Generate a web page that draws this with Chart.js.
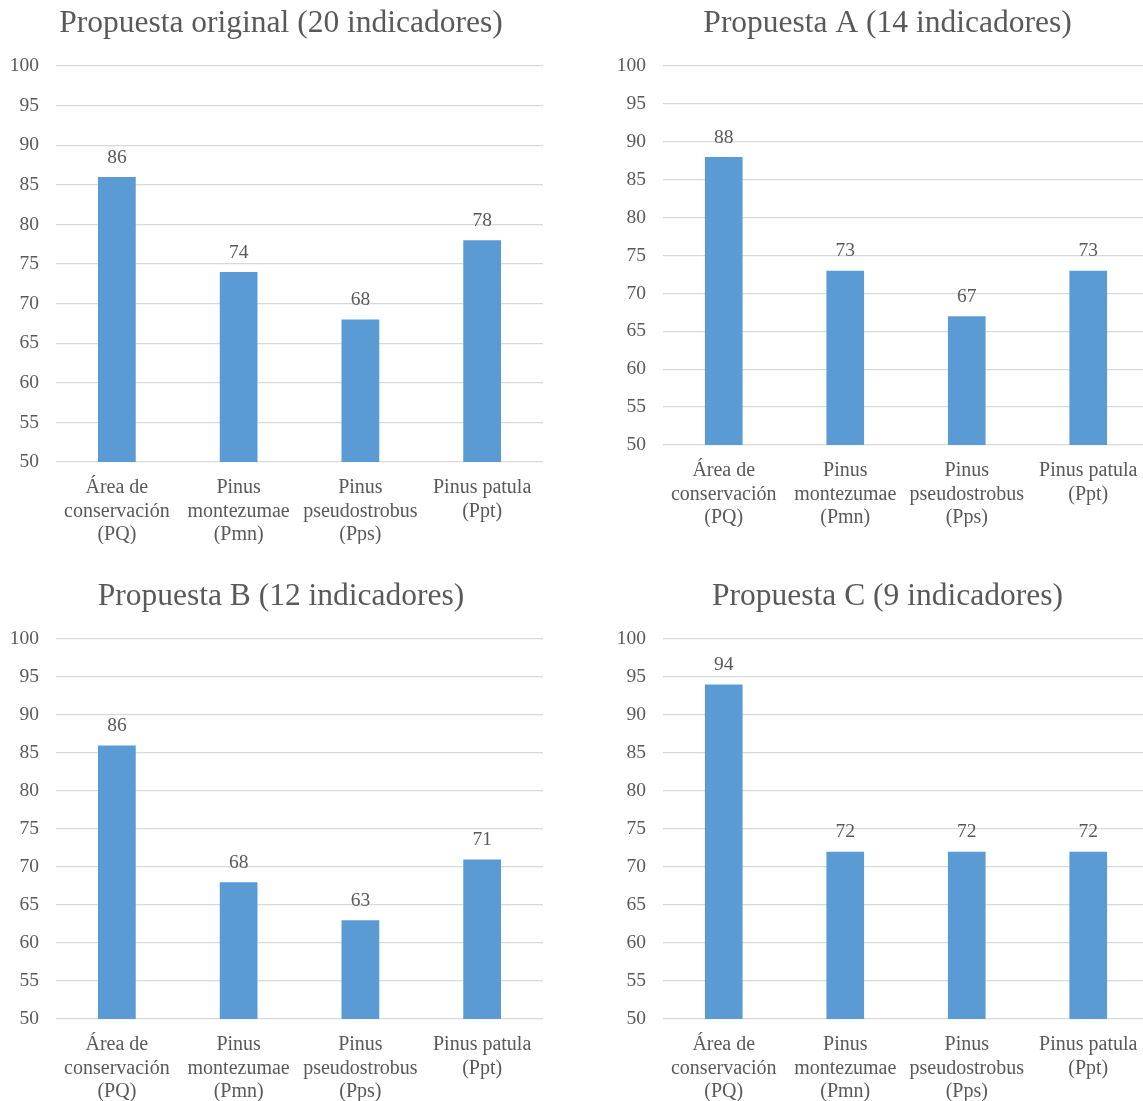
<!DOCTYPE html>
<html lang="es">
<head>
<meta charset="utf-8">
<title>Propuestas de indicadores</title>
<script src="https://cdn.jsdelivr.net/npm/chart.js@4/dist/chart.umd.min.js"></script>
<style>
  html, body { margin: 0; padding: 0; background: #fff; overflow: hidden; }
  body { position: relative; width: 1143px; height: 1101px; }
  canvas { position: absolute; }
</style>
</head>
<body>
<canvas id="cOriginal"></canvas>
<canvas id="cA"></canvas>
<canvas id="cB"></canvas>
<canvas id="cC"></canvas>
<script>
const CATEGORIES = [
  ["Área de", "conservación", "(PQ)"],
  ["Pinus", "montezumae", "(Pmn)"],
  ["Pinus", "pseudostrobus", "(Pps)"],
  ["Pinus patula", "(Ppt)"],
];

const TITLE_ORIGINAL = "Propuesta original (20 indicadores)";
const TITLE_A = "Propuesta A (14 indicadores)";
const TITLE_B = "Propuesta B (12 indicadores)";
const TITLE_C = "Propuesta C (9 indicadores)";

const VALUES_ORIGINAL = [86, 74, 68, 78];
const VALUES_A = [88, 73, 67, 73];
const VALUES_B = [86, 68, 63, 71];
const VALUES_C = [94, 72, 72, 72];

const Y_MIN = 50;
const Y_MAX = 100;
const Y_STEP = 5;

(() => {
  const FONT = "'Liberation Serif', 'Times New Roman', serif";
  const TEXT = "#595959";
  const BAR = "#5B9BD5";
  const GRID = "#D9D9D9";

  const el = (id) => document.getElementById(id);

  // value above each bar
  const valueLabels = {
    id: "valueLabels",
    afterDatasetsDraw(chart){
      const ctx = chart.ctx;
      ctx.save();
      ctx.font = `19.5px ${FONT}`;
      ctx.fillStyle = TEXT;
      ctx.textAlign = "center";
      ctx.textBaseline = "middle";
      chart.data.datasets.forEach((ds, i) => {
        chart.getDatasetMeta(i).data.forEach((bar, j) => {
          ctx.fillText(String(ds.data[j]), bar.x, bar.y - 19.5);
        });
      });
      ctx.restore();
    }
  };

  function makeChart(id, box, title, values){
    const canvas = el(id);
    canvas.width = box.w;
    canvas.height = box.h;
    canvas.style.left = box.x + "px";
    canvas.style.top = box.y + "px";

    return new Chart(canvas, {
      type: "bar",
      data: {
        labels: CATEGORIES,
        datasets: [{
          data: values,
          backgroundColor: BAR,
          borderWidth: 0,
          categoryPercentage: 1,
          barPercentage: 0.31,
        }]
      },
      options: {
        responsive: false,
        animation: false,
        devicePixelRatio: 1,
        layout: { padding: 0 },
        plugins: {
          legend: { display: false },
          tooltip: { enabled: false },
          title: {
            display: true,
            text: title,
            color: TEXT,
            font: { family: FONT, size: 31.5, weight: "normal" },
            padding: { top: 4.4, bottom: 23.8 },
          }
        },
        scales: {
          x: {
            grid: { display: false, drawTicks: false },
            border: { display: false },
            ticks: {
              color: TEXT,
              font: { family: FONT, size: 20, lineHeight: 1.16 },
              padding: 14.5,
              maxRotation: 0,
              autoSkip: false,
            },
            afterFit(scale){ scale.height = 82; }
          },
          y: {
            min: Y_MIN,
            max: Y_MAX,
            grid: { color: GRID, lineWidth: 1.3, drawTicks: false },
            border: { display: false },
            ticks: {
              stepSize: Y_STEP,
              color: TEXT,
              font: { family: FONT, size: 19.5 },
              padding: 17,
            },
            afterFit(scale){ scale.width = 56; }
          },
          // empty strip on the right so the title sits over the whole panel
          gap: {
            type: "linear",
            position: "right",
            grid: { display: false, drawTicks: false },
            border: { display: false },
            ticks: { display: false },
            afterFit(scale){ scale.width = 19; }
          }
        }
      },
      plugins: [valueLabels]
    });
  }

  makeChart("cOriginal", { x: 0, y: 0, w: 562, h: 544 }, TITLE_ORIGINAL, VALUES_ORIGINAL);
  makeChart("cA", { x: 607, y: 0, w: 561, h: 527 }, TITLE_A, VALUES_A);
  makeChart("cB", { x: 0, y: 573, w: 562, h: 528 }, TITLE_B, VALUES_B);
  makeChart("cC", { x: 607, y: 573, w: 561, h: 528 }, TITLE_C, VALUES_C);
})();
</script>
</body>
</html>
